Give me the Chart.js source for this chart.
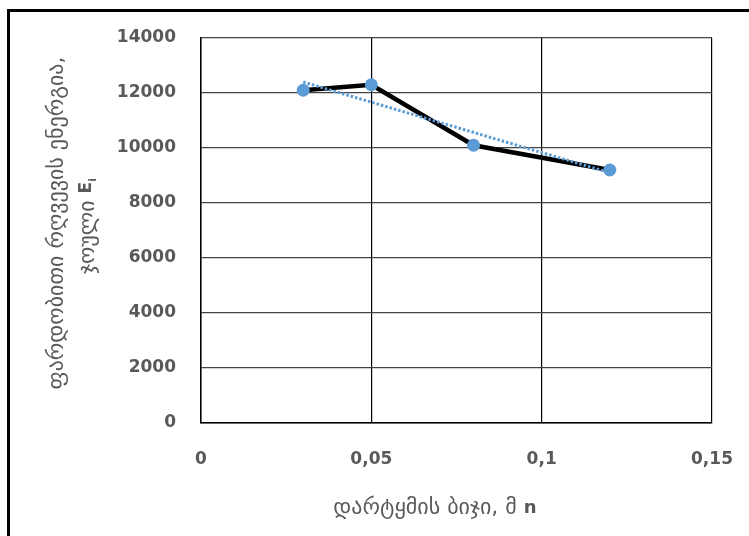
<!DOCTYPE html>
<html lang="ka">
<head>
    <meta charset="UTF-8">
    <title>დარტყმის ბიჯი</title>
    <script src="https://cdn.jsdelivr.net/npm/chart.js@4/dist/chart.umd.min.js"></script>
    <style>
        html, body {
            margin: 0;
            padding: 0;
            background: #fff;
            overflow: hidden;
        }

        canvas {
            display: block;
        }
    </style>
</head>
<body>
    <canvas id="chart" width="749" height="536"></canvas>

    <script>
        // measured values
        const stepX = [0.03, 0.05, 0.08, 0.12];
        const energyY = [12100, 12300, 10100, 9200];

        // dotted trend line, read at its two ends
        const trendX = [0.03, 0.12];
        const trendY = [12400, 9100];

        const xTicks = [0, 0.05, 0.1, 0.15];
        const yTicks = [0, 2000, 4000, 6000, 8000, 10000, 12000, 14000];

        const yTitle = 'ფარდობითი რღვევის ენერგია,';
        const yTitle2 = 'ჯოული ';
        const xTitle = 'დარტყმის ბიჯი, მ ';

        const grey = '#595959';
        const blue = '#5B9BD5';
        const geoFont = '"DejaVu Sans", sans-serif';

        function toPoints(xs, ys) {
            return xs.map((x, i) => ({ x: x, y: ys[i] }));
        }

        // white background + cropped black frame (left and top only)
        const framePlugin = {
            id: 'frame',
            beforeDraw(chart) {
                const ctx = chart.ctx;
                ctx.save();
                ctx.fillStyle = '#fff';
                ctx.fillRect(0, 0, chart.width, chart.height);
                ctx.fillStyle = '#000';
                ctx.fillRect(7, 9, 3, chart.height - 9);
                ctx.fillRect(7, 9, chart.width - 7, 3);
                ctx.restore();
            }
        };

        // axis titles with mixed styles (bold E, subscript i, bold n)
        const titlesPlugin = {
            id: 'titles',
            afterDraw(chart) {
                const ctx = chart.ctx;
                ctx.save();
                ctx.fillStyle = grey;
                ctx.textBaseline = 'middle';

                // y title, line 1
                ctx.save();
                ctx.translate(57, 223);
                ctx.rotate(-Math.PI / 2);
                ctx.font = '22px ' + geoFont;
                ctx.textAlign = 'center';
                ctx.fillText(yTitle, 0, 0);
                ctx.restore();

                // y title, line 2
                ctx.save();
                ctx.translate(88, 226);
                ctx.rotate(-Math.PI / 2);
                ctx.textAlign = 'left';
                ctx.font = '22px ' + geoFont;
                const w1 = ctx.measureText(yTitle2).width;
                ctx.font = 'bold 17px "DejaVu Sans", sans-serif';
                const w2 = ctx.measureText('E').width;
                ctx.font = 'bold 11px "DejaVu Sans", sans-serif';
                const w3 = ctx.measureText('i').width;
                let x0 = -(w1 + w2 + w3) / 2;
                ctx.font = '22px ' + geoFont;
                ctx.fillText(yTitle2, x0, 0);
                ctx.font = 'bold 17px "DejaVu Sans", sans-serif';
                ctx.fillText('E', x0 + w1, -1);
                ctx.font = 'bold 11px "DejaVu Sans", sans-serif';
                ctx.fillText('i', x0 + w1 + w2, 5);
                ctx.restore();

                // x title
                ctx.font = '22px ' + geoFont;
                const a = ctx.measureText(xTitle).width;
                ctx.font = 'bold 18px "DejaVu Sans", sans-serif';
                const b = ctx.measureText('n').width;
                const xs = 435 - (a + b) / 2;
                ctx.textAlign = 'left';
                ctx.font = '22px ' + geoFont;
                ctx.fillText(xTitle, xs, 508);
                ctx.font = 'bold 18px "DejaVu Sans", sans-serif';
                ctx.fillText('n', xs + a, 508);

                ctx.restore();
            }
        };

        new Chart(document.getElementById('chart'), {
            type: 'scatter',
            data: {
                datasets: [
                    {
                        label: 'trend',
                        data: toPoints(trendX, trendY),
                        showLine: true,
                        borderColor: blue,
                        borderWidth: 3,
                        borderDash: [2.5, 2],
                        pointRadius: 0,
                        order: 0
                    },
                    {
                        label: 'Ei',
                        data: toPoints(stepX, energyY),
                        showLine: true,
                        borderColor: '#000',
                        borderWidth: 4.5,
                        pointRadius: 6.5,
                        pointBorderWidth: 0,
                        pointBackgroundColor: blue,
                        pointBorderColor: blue,
                        order: 1
                    }
                ]
            },
            options: {
                responsive: false,
                animation: false,
                devicePixelRatio: 1,
                layout: {
                    padding: { left: 0, top: 38, right: 37, bottom: 0 }
                },
                plugins: {
                    legend: { display: false },
                    tooltip: { enabled: false }
                },
                scales: {
                    x: {
                        type: 'linear',
                        min: xTicks[0],
                        max: xTicks[xTicks.length - 1],
                        afterBuildTicks: (s) => { s.ticks = xTicks.map(v => ({ value: v })); },
                        afterFit: (s) => {
                            s.height = 113;
                            s.paddingLeft = 0;
                            s.paddingRight = 0;
                        },
                        grid: { color: '#000', lineWidth: 1.2, drawTicks: false },
                        border: { color: '#000', width: 1.5 },
                        ticks: {
                            padding: 26,
                            color: grey,
                            font: { family: '"DejaVu Sans", sans-serif', size: 17, weight: 'bold' },
                            callback: (v) => String(parseFloat(v.toFixed(2))).replace('.', ',')
                        }
                    },
                    y: {
                        min: yTicks[0],
                        max: yTicks[yTicks.length - 1],
                        afterBuildTicks: (s) => { s.ticks = yTicks.map(v => ({ value: v })); },
                        afterFit: (s) => {
                            s.width = 201;
                            s.paddingTop = 0;
                            s.paddingBottom = 0;
                        },
                        grid: { color: '#444', lineWidth: 1.3, drawTicks: false },
                        border: { color: '#000', width: 1.5 },
                        ticks: {
                            padding: 25,
                            color: grey,
                            font: { family: '"DejaVu Sans", sans-serif', size: 17, weight: 'bold' },
                            callback: (v) => String(v)
                        }
                    }
                }
            },
            plugins: [framePlugin, titlesPlugin]
        });
    </script>
</body>
</html>
